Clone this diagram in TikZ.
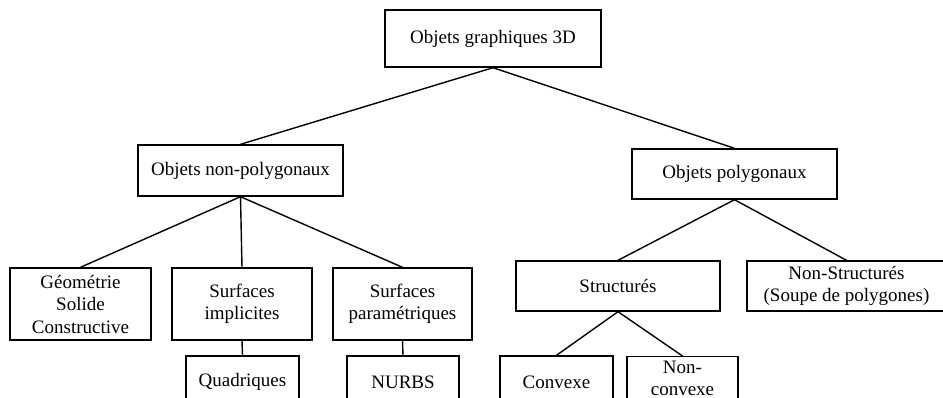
\documentclass[tikz,border=0pt]{standalone}
\usepackage{fontspec}
\setmainfont{Liberation Serif}
\usepackage{tikz}
\usetikzlibrary{positioning}

\begin{document}
\begin{tikzpicture}[x=1pt,y=-1pt,line width=1.4pt]
	\tikzstyle{block} = [draw, rectangle, align=center, inner sep=0pt, font=\fontsize{19}{22.5}\selectfont]
	\useasboundingbox (0,0) rectangle (943,398);

	\node [block, minimum width=216pt, minimum height=57pt] (root) at (493,38.5) {Objets graphiques 3D};
	\node [block, minimum width=205pt, minimum height=51pt] (nonpoly) at (240.5,170.5) {Objets non-polygonaux};
	\node [block, minimum width=205pt, minimum height=50pt] (poly) at (734.5,174) {Objets polygonaux};

	\node [block, minimum width=141pt, minimum height=72pt] (csg) at (80.5,304) {Géométrie\\Solide\\Constructive};
	\node [block, minimum width=140pt, minimum height=72pt] (implicit) at (242,304) {Surfaces\\implicites};
	\node [block, minimum width=139pt, minimum height=72pt] (param) at (402.5,304) {Surfaces\\paramétriques};
	\node [block, minimum width=113pt, minimum height=52pt] (quadr) at (242.5,382) {Quadriques};
	\node [block, minimum width=112pt, minimum height=52pt] (nurbs) at (403,382) {NURBS};

	\node [block, minimum width=204pt, minimum height=50pt] (struct) at (618,286) {Structurés};
	\node [block, minimum width=199pt, minimum height=50pt] (nonstruct) at (846.5,286) {Non-Structurés\\(Soupe de polygones)};
	\node [block, minimum width=113pt, minimum height=52pt] (convex) at (556.5,382) {Convexe};
	\node [block, minimum width=111pt, anchor=north, inner ysep=4pt, text depth=45pt] (nonconvex) at (682.5,356) {Non-\\convexe};

	\draw (root.south) -- (nonpoly.north);
	\draw (root.south) -- (poly.north);
	\draw (nonpoly.south) -- (csg.north);
	\draw (nonpoly.south) -- (implicit.north);
	\draw (nonpoly.south) -- (param.north);
	\draw (implicit.south) -- (quadr.north);
	\draw (param.south) -- (nurbs.north);
	\draw (poly.south) -- (struct.north);
	\draw (poly.south) -- (nonstruct.north);
	\draw (struct.south) -- (convex.north);
	\draw (struct.south) -- (nonconvex.north);

\end{tikzpicture}
\end{document}
